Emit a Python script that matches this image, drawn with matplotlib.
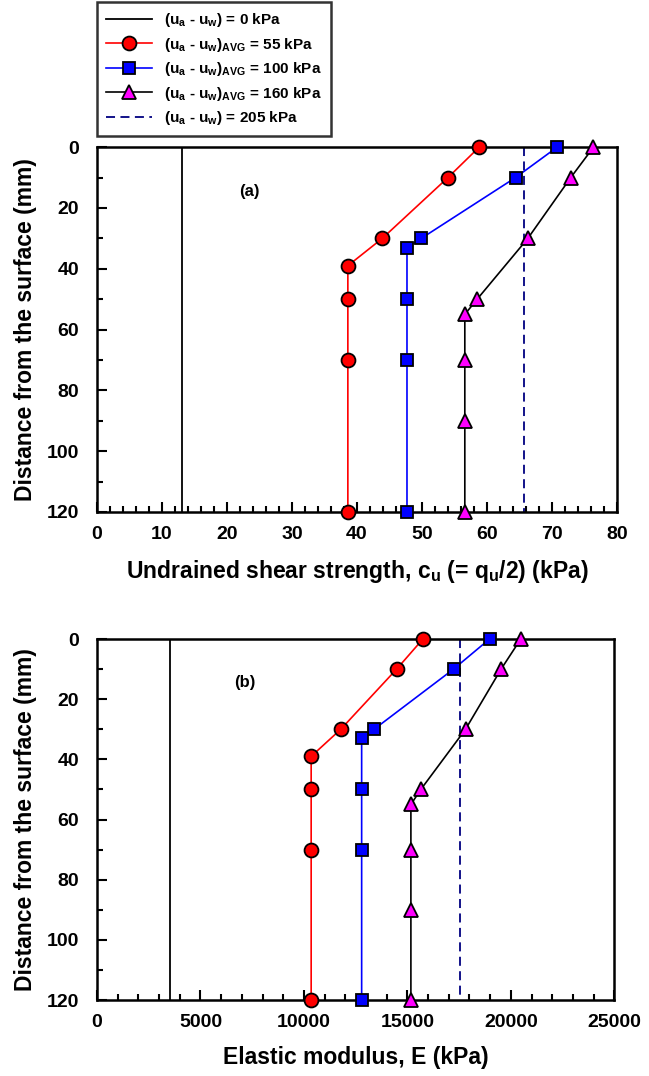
import matplotlib.pyplot as plt
from matplotlib.ticker import MultipleLocator

plt.rcParams['font.family'] = ['Liberation Sans', 'DejaVu Sans']
plt.rcParams['font.weight'] = 'bold'
plt.rcParams['mathtext.fontset'] = 'custom'
plt.rcParams['mathtext.rm'] = 'Liberation Sans:bold'
plt.rcParams['mathtext.it'] = 'Liberation Sans:bold'
plt.rcParams['mathtext.bf'] = 'Liberation Sans:bold'
plt.rcParams['mathtext.default'] = 'regular'

# depth of each measurement (mm)
depth_55 = [0, 10, 30, 39, 50, 70, 120]
depth_100 = [0, 10, 30, 33, 50, 70, 120]
depth_160 = [0, 10, 30, 50, 55, 70, 90, 120]
depth_line = [0, 120]

# undrained shear strength cu (kPa)
cu_0 = 13.1
cu_55 = [58.8, 54.0, 43.9, 38.6, 38.6, 38.6, 38.6]
cu_100 = [70.8, 64.4, 49.9, 47.7, 47.7, 47.7, 47.7]
cu_160 = [76.4, 72.9, 66.3, 58.5, 56.6, 56.6, 56.6, 56.6]
cu_205 = 65.7

# elastic modulus E (kPa)
E_0 = 3550
E_55 = [15750, 14480, 11780, 10350, 10350, 10350, 10350]
E_100 = [18970, 17230, 13390, 12790, 12790, 12790, 12790]
E_160 = [20480, 19530, 17810, 15650, 15170, 15170, 15170, 15170]
E_205 = 17560

labels = ['(u$_a$ - u$_w$) = 0 kPa',
          '(u$_a$ - u$_w$)$_{AVG}$ = 55 kPa',
          '(u$_a$ - u$_w$)$_{AVG}$ = 100 kPa',
          '(u$_a$ - u$_w$)$_{AVG}$ = 160 kPa',
          '(u$_a$ - u$_w$) = 205 kPa']

fig = plt.figure(figsize=(6.49, 10.76), dpi=100)
ax1 = fig.add_axes([0.1495, 0.5242, 0.801, 0.339])
ax2 = fig.add_axes([0.1495, 0.0706, 0.797, 0.3355])


def draw(ax, v0, v55, v100, v160, v205):
    ax.plot([v0, v0], depth_line, color='black', lw=1.3, label=labels[0])
    ax.plot(v55, depth_55, color='red', lw=1.2, marker='o', ms=10,
            mfc='red', mec='black', mew=1.3, label=labels[1], clip_on=False, zorder=3)
    ax.plot(v100, depth_100, color='blue', lw=1.2, marker='s', ms=9,
            mfc='blue', mec='black', mew=1.3, label=labels[2], clip_on=False, zorder=3)
    ax.plot(v160, depth_160, color='black', lw=1.2, marker='^', ms=10,
            mfc='magenta', mec='black', mew=1.3, label=labels[3], clip_on=False, zorder=3)
    ax.plot([v205, v205], depth_line, color='#000080', lw=1.3, ls=(0, (5, 3)),
            label=labels[4])
    ax.set_ylim(120, 0)
    ax.yaxis.set_major_locator(MultipleLocator(20))
    ax.yaxis.set_minor_locator(MultipleLocator(10))
    ax.tick_params(which='both', direction='in', top=False, right=False,
                   labelsize=14, width=1.5)
    ax.tick_params(axis='x', pad=10)
    ax.tick_params(axis='y', pad=13)
    ax.tick_params(which='major', length=7)
    ax.tick_params(which='minor', length=4)
    for s in ax.spines.values():
        s.set_linewidth(1.8)
    ax.set_ylabel('Distance from the surface (mm)', fontsize=16.5,
                  fontweight='bold', labelpad=7)


draw(ax1, cu_0, cu_55, cu_100, cu_160, cu_205)
ax1.set_xlim(0, 80)
ax1.xaxis.set_major_locator(MultipleLocator(10))
ax1.xaxis.set_minor_locator(MultipleLocator(2))
ax1.set_xlabel('Undrained shear strength, c$_u$ (= q$_u$/2) (kPa)',
               fontsize=16.5, fontweight='bold', labelpad=11)
ax1.text(23.5, 14.5, '(a)', fontsize=12, fontweight='bold', ha='center', va='center')

draw(ax2, E_0, E_55, E_100, E_160, E_205)
ax2.set_xlim(0, 25000)
ax2.xaxis.set_major_locator(MultipleLocator(5000))
ax2.xaxis.set_minor_locator(MultipleLocator(1000))
ax2.set_xlabel('Elastic modulus, E (kPa)', fontsize=16.5, fontweight='bold', labelpad=11)
ax2.text(7150, 14.5, '(b)', fontsize=12, fontweight='bold', ha='center', va='center')

h, l = ax1.get_legend_handles_labels()
leg = fig.legend(h, l, loc='upper left', bbox_to_anchor=(0.1495, 0.998),
                 fontsize=11, frameon=True, fancybox=False, edgecolor='black',
                 handlelength=3.0, borderpad=0.6, labelspacing=0.42,
                 handletextpad=0.8, borderaxespad=0)
leg.get_frame().set_linewidth(1.8)

fig.savefig('out.png', dpi=100)
